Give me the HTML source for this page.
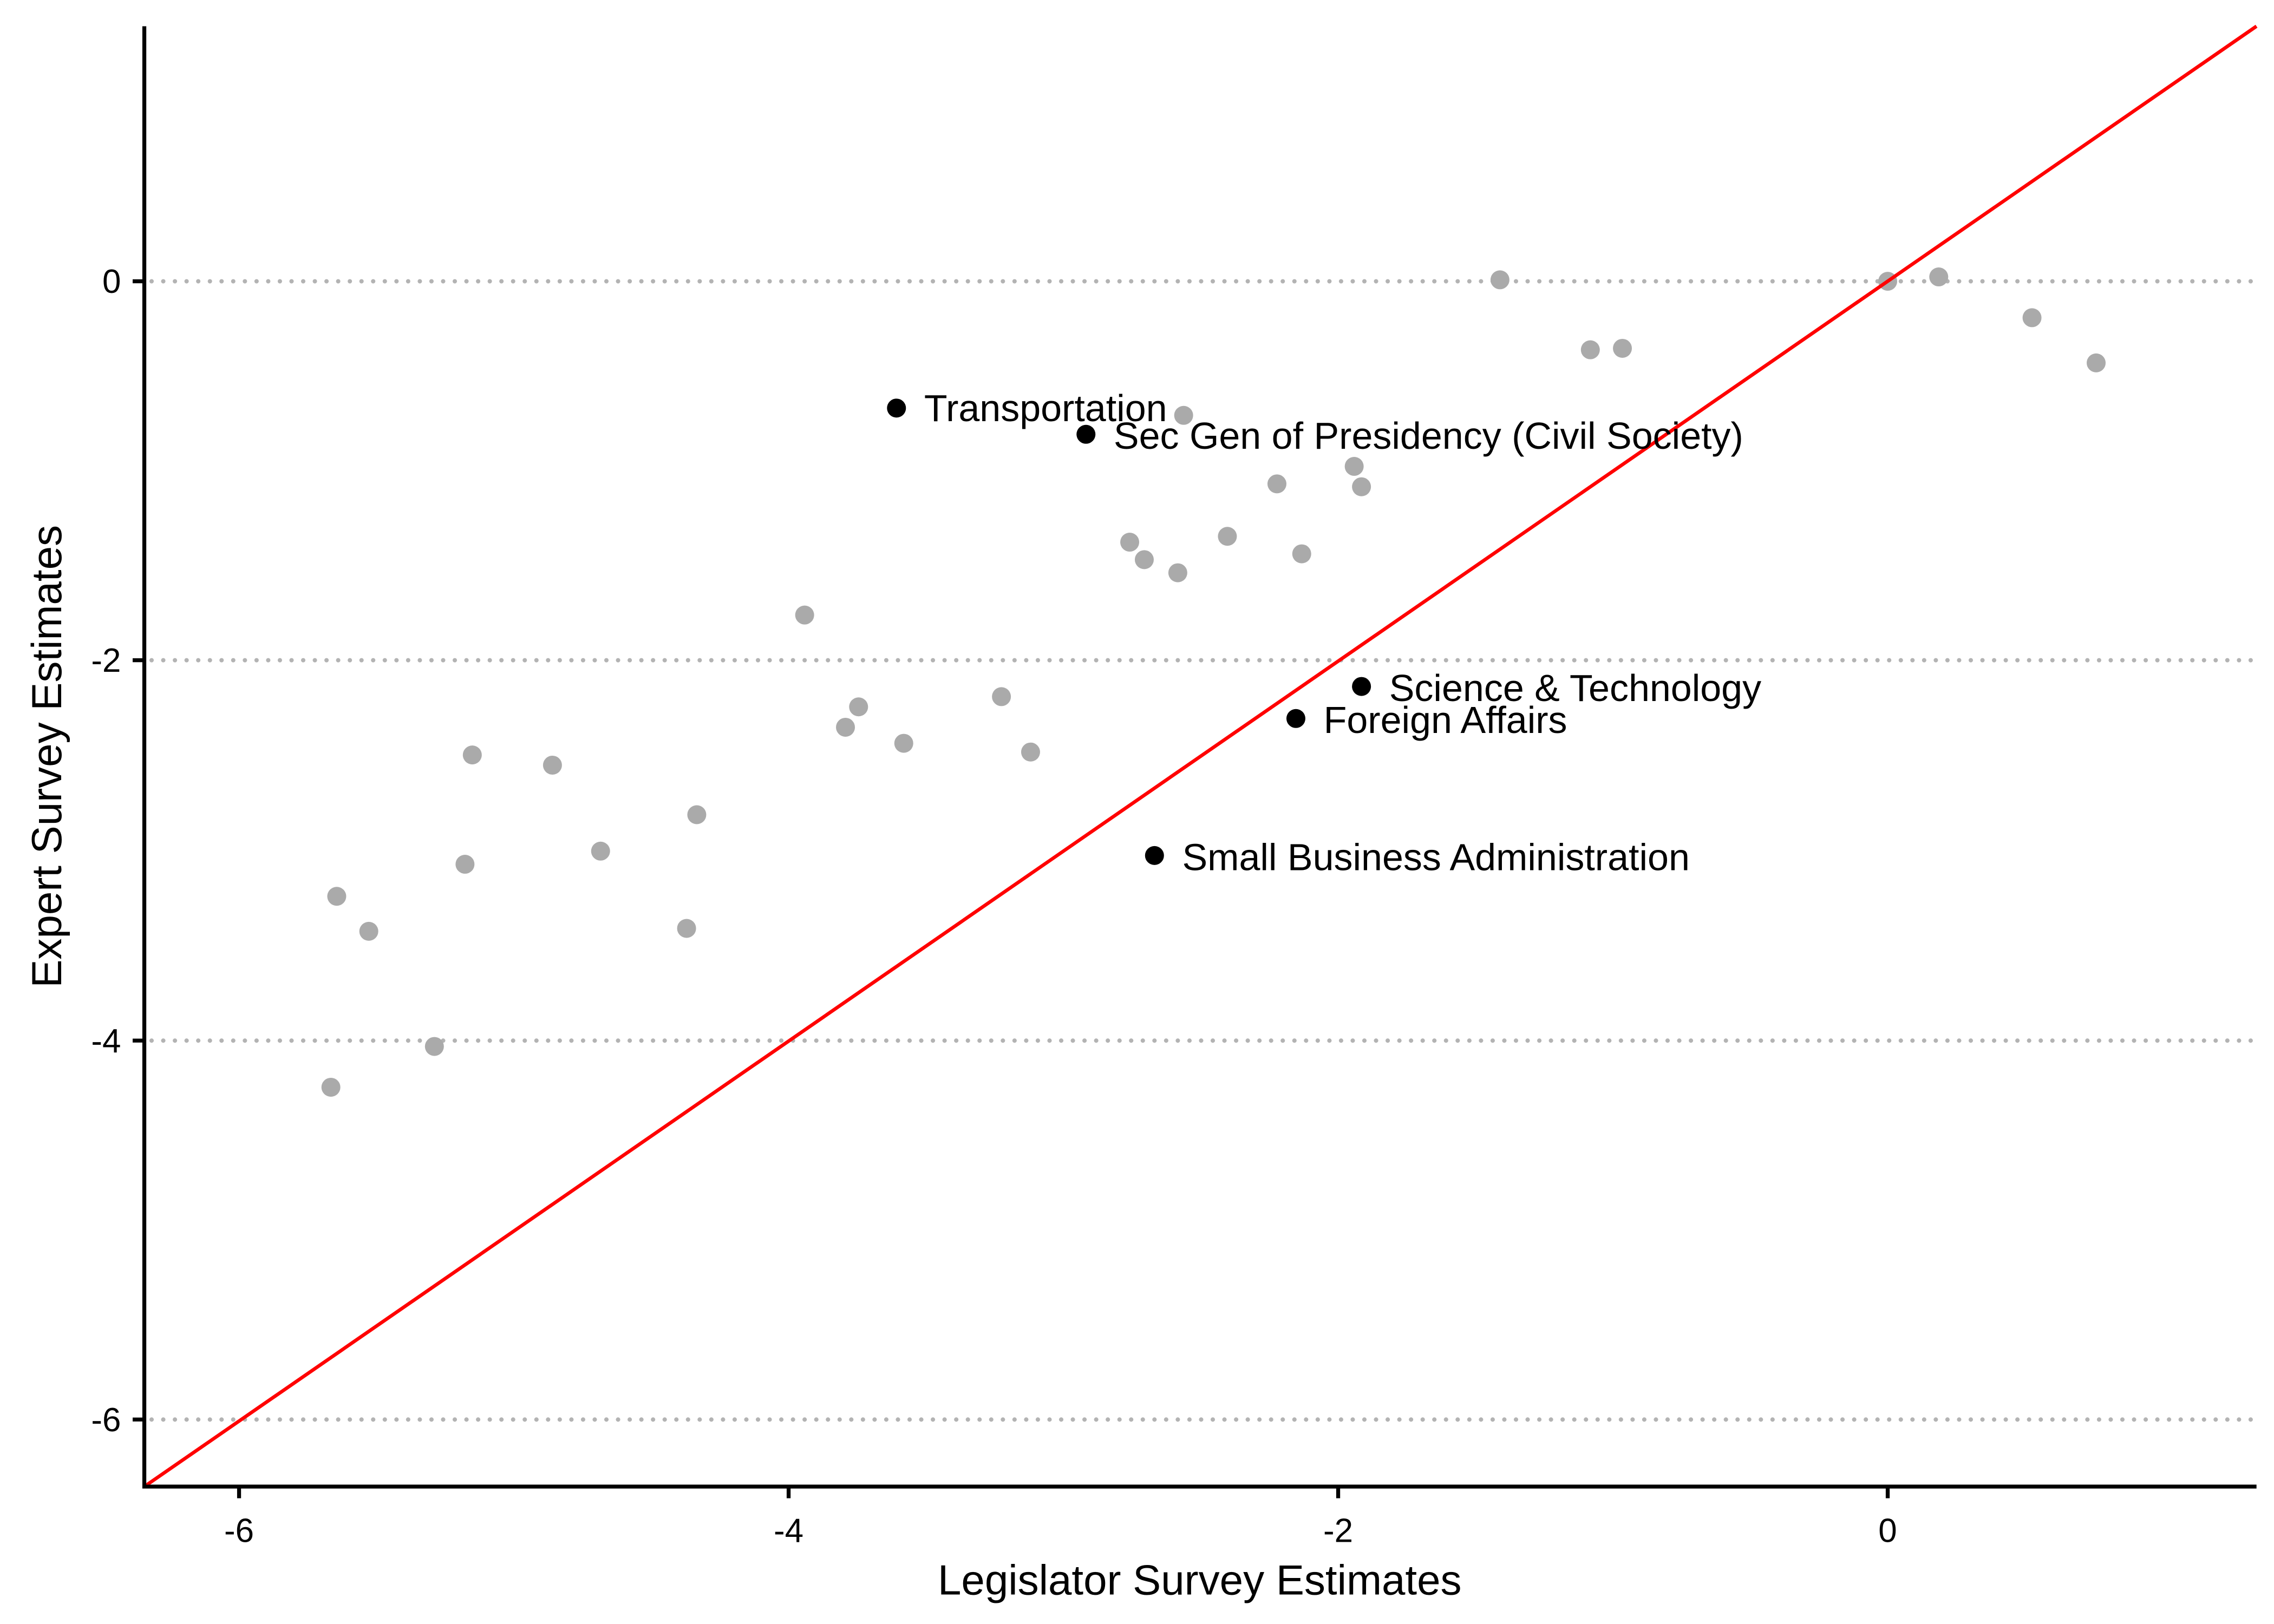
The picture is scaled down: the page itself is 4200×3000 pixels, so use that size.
<!DOCTYPE html>
<html><head><meta charset="utf-8"><style>html,body{margin:0;padding:0;background:#fff}svg{display:block}</style></head>
<body>
<svg xmlns="http://www.w3.org/2000/svg" width="4200" height="3000" viewBox="0 0 1560 1114.29" font-family="Liberation Sans, Arial, sans-serif">
<rect width="1560" height="1114.29" fill="#fff"/>
<g stroke="#b3b3b3" stroke-width="3" stroke-dasharray="0,8" stroke-linecap="round">
<line x1="104" y1="193" x2="1548" y2="193"/>
<line x1="104" y1="453" x2="1548" y2="453"/>
<line x1="104" y1="714" x2="1548" y2="714"/>
<line x1="104" y1="974" x2="1548" y2="974"/>
</g>
<g fill="#aaaaaa">
<circle cx="1029" cy="192" r="6.5"/><circle cx="1295" cy="193" r="6.5"/><circle cx="1330" cy="190" r="6.5"/>
<circle cx="1394" cy="218" r="6.5"/><circle cx="1438" cy="249" r="6.5"/><circle cx="1091" cy="240" r="6.5"/>
<circle cx="1113" cy="239" r="6.5"/><circle cx="812" cy="285" r="6.5"/><circle cx="929" cy="320" r="6.5"/>
<circle cx="876" cy="332" r="6.5"/><circle cx="934" cy="334" r="6.5"/><circle cx="775" cy="372" r="6.5"/>
<circle cx="785" cy="384" r="6.5"/><circle cx="842" cy="368" r="6.5"/><circle cx="808" cy="393" r="6.5"/>
<circle cx="893" cy="380" r="6.5"/><circle cx="552" cy="422" r="6.5"/><circle cx="589" cy="485" r="6.5"/>
<circle cx="580" cy="499" r="6.5"/><circle cx="620" cy="510" r="6.5"/><circle cx="687" cy="478" r="6.5"/>
<circle cx="707" cy="516" r="6.5"/><circle cx="324" cy="518" r="6.5"/><circle cx="379" cy="525" r="6.5"/>
<circle cx="412" cy="584" r="6.5"/><circle cx="478" cy="559" r="6.5"/><circle cx="319" cy="593" r="6.5"/>
<circle cx="231" cy="615" r="6.5"/><circle cx="253" cy="639" r="6.5"/><circle cx="471" cy="637" r="6.5"/>
<circle cx="298" cy="718" r="6.5"/><circle cx="227" cy="746" r="6.5"/>
</g>
<line x1="99" y1="1020" x2="1548" y2="18" stroke="#ff0000" stroke-width="2.4"/>
<g fill="#000">
<circle cx="615" cy="280" r="6.5"/><circle cx="745" cy="298" r="6.5"/><circle cx="934" cy="471" r="6.5"/>
<circle cx="889" cy="493" r="6.5"/><circle cx="792" cy="587" r="6.5"/>
</g>
<g font-size="26" fill="#000">
<text x="634" y="289">Transportation</text>
<text x="764" y="308">Sec Gen of Presidency (Civil Society)</text>
<text x="953" y="481">Science &amp; Technology</text>
<text x="908" y="503">Foreign Affairs</text>
<text x="811" y="597">Small Business Administration</text>
</g>
<g stroke="#000" stroke-width="2.7" fill="none">
<polyline points="99,18 99,1020 1548,1020"/>
<line x1="91" y1="193" x2="99" y2="193"/><line x1="91" y1="453" x2="99" y2="453"/>
<line x1="91" y1="714" x2="99" y2="714"/><line x1="91" y1="974" x2="99" y2="974"/>
<line x1="164" y1="1020" x2="164" y2="1028"/><line x1="541" y1="1020" x2="541" y2="1028"/>
<line x1="918" y1="1020" x2="918" y2="1028"/><line x1="1295" y1="1020" x2="1295" y2="1028"/>
</g>
<g font-size="23" fill="#000" text-anchor="end">
<text x="83" y="201">0</text><text x="83" y="461">-2</text><text x="83" y="722">-4</text><text x="83" y="982">-6</text>
</g>
<g font-size="23" fill="#000" text-anchor="middle">
<text x="164" y="1058">-6</text><text x="541" y="1058">-4</text><text x="918" y="1058">-2</text><text x="1295" y="1058">0</text>
<text x="823" y="1094" font-size="29">Legislator Survey Estimates</text>
<text transform="translate(42,519) rotate(-90)" font-size="29">Expert Survey Estimates</text>
</g>
</svg>
</body></html>
